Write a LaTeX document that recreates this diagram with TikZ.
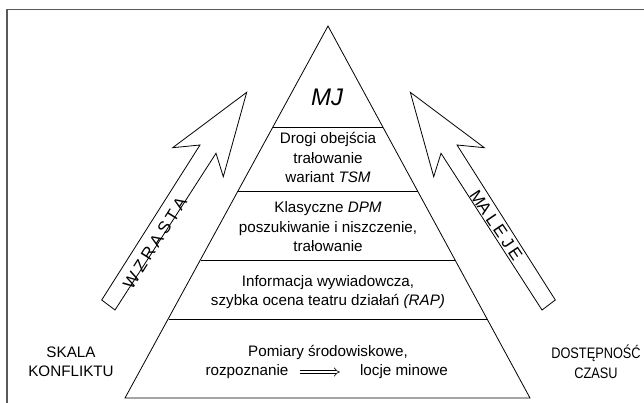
\documentclass[tikz,border=0pt]{standalone}
\usepackage{fontspec}
\setmainfont{Liberation Sans}
\usetikzlibrary{arrows.meta}
\begin{document}
\begin{tikzpicture}[x=1pt,y=-1pt,
  txt/.style={font=\fontsize{15.2}{19.5}\selectfont, align=center, inner sep=0pt},
  shp/.style={draw=black, line width=0.8pt, line join=miter},
  frameline/.style={draw=black!65, line width=1.5pt},
  arrtxt/.style={font=\fontsize{17}{19}\selectfont, inner sep=0pt}]
\useasboundingbox (0,0) rectangle (644,403);
\fill[white] (0,0) rectangle (644,403);
\draw[frameline] (7,403) -- (7,9.5) -- (644,9.5);
% pyramid
\coordinate (apex) at (328,26);
\coordinate (bl) at (125,398);
\coordinate (br) at (530,398);
\draw[shp] (bl) -- (apex) -- (br) -- cycle;
\draw[shp] (273,127) -- (383,127);
\draw[shp] (238.2,191) -- (417.8,191);
\draw[shp] (200.6,260) -- (455.4,260);
\draw[shp] (168.5,319) -- (487.5,319);
% side arrows
\draw[shp] (246.7,92.3) -- (172.7,147.7) -- (200,145) -- (101.7,300) -- (115,310) -- (216,153.3) -- (223.3,176.7) -- cycle;
\draw[shp] (410.3,92.3) -- (484.3,147.7) -- (457,145) -- (555.3,300) -- (542,310) -- (441,153.3) -- (433.7,176.7) -- cycle;
\node[arrtxt, rotate=57.7] (wzrasta) at (155,243) {\spaceskip=3.5pt W Z R A S T A};
\node[arrtxt, rotate=-56] (maleje) at (496,225) {\spaceskip=3.5pt MA L E J E};
% texts
\node[txt, font=\fontsize{24}{28}\selectfont\itshape] (mj) at (327,97) {MJ};
\node[txt] (lev4) at (328,157.5) {Drogi obejścia\\trałowanie\\wariant \textit{TSM}};
\node[txt] (lev3) at (328,227) {Klasyczne \textit{DPM}\\poszukiwanie i niszczenie,\\trałowanie};
\node[txt] (lev2) at (328,292) {Informacja wywiadowcza,\\szybka ocena teatru działań \textit{(RAP)}};
\node[txt] (lev1) at (328,352) {Pomiary środowiskowe,};
\node[txt] (rozp) at (247,372) {rozpoznanie};
\node[txt] (locje) at (404,372) {locje minowe};
\draw[double, double distance=2.5pt, line width=0.6pt, -{Implies}, shorten <=11pt, shorten >=20pt] (rozp) -- (locje);
\node[txt] (skala) at (71,362) {SKALA\\KONFLIKTU};
\node[txt, xscale=0.84, transform shape] (dost) at (596,362) {DOSTĘPNOŚĆ\\CZASU};
\end{tikzpicture}
\end{document}
